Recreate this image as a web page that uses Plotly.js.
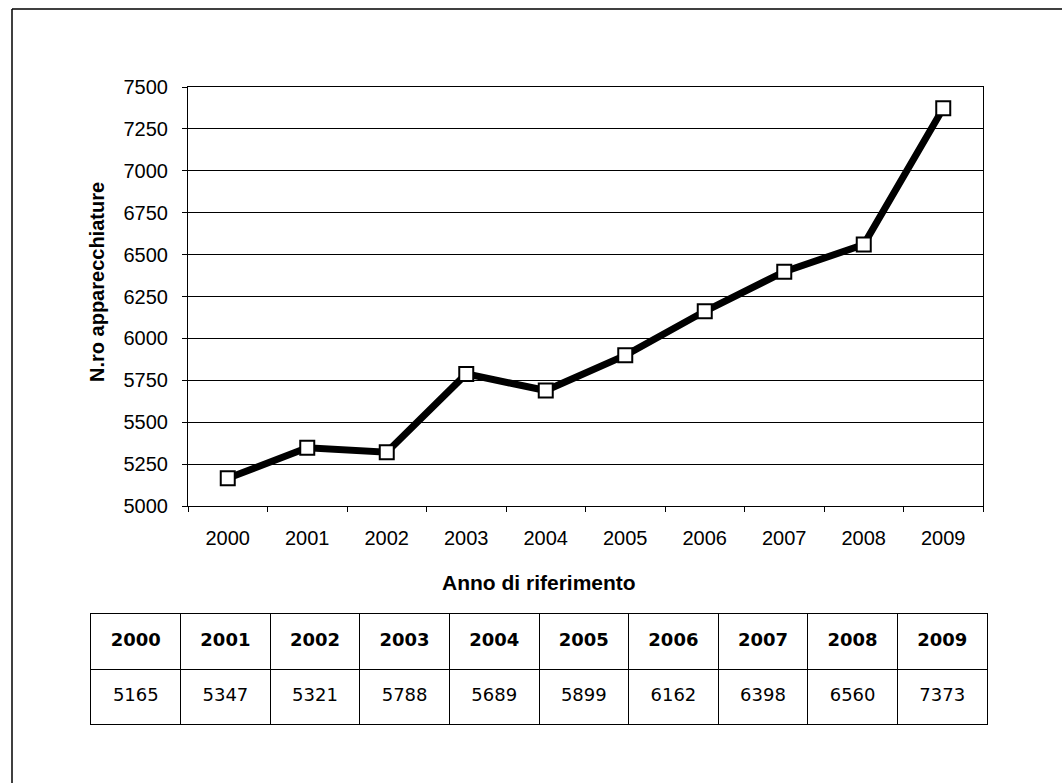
<!DOCTYPE html>
<html>
<head>
<meta charset="utf-8">
<script src="https://cdn.plot.ly/plotly-3.0.1.min.js"></script>
<style>
  html, body { margin: 0; padding: 0; background: #fff; }
  #chart { width: 1062px; height: 783px; }
</style>
</head>
<body>
<div id="chart"></div>
<script>
// Number of devices per reference year
const years = ['2000', '2001', '2002', '2003', '2004', '2005', '2006', '2007', '2008', '2009'];
const counts = [5165, 5347, 5321, 5788, 5689, 5899, 6162, 6398, 6560, 7373];
const yTickValues = [5000, 5250, 5500, 5750, 6000, 6250, 6500, 6750, 7000, 7250, 7500];

const W = 1062, H = 783;
const px = v => v / W;          // horizontal pixel -> paper fraction
const py = v => 1 - v / H;      // vertical pixel (from top) -> paper fraction

const lineTrace = {
  type: 'scatter',
  mode: 'lines+markers',
  x: years,
  y: counts,
  xaxis: 'x', yaxis: 'y',
  line: { color: '#000', width: 7 },
  marker: { symbol: 'square', size: 14, color: '#fff', line: { color: '#000', width: 2 } },
  hoverinfo: 'x+y',
  showlegend: false
};

// Data table under the chart: its own category axis gives the column grid,
// row 1 (y = 1.5) holds the years, row 0 (y = 0.5) the counts.
const tableHeader = {
  type: 'scatter',
  mode: 'text',
  x: years,
  y: years.map(() => 1.5),
  text: years,
  xaxis: 'x2', yaxis: 'y2',
  textposition: 'middle center',
  textfont: { family: 'DejaVu Sans', size: 18, color: '#000', weight: 'bold' },
  hoverinfo: 'skip',
  showlegend: false
};

const tableValues = {
  type: 'scatter',
  mode: 'text',
  x: years,
  y: years.map(() => 0.5),
  text: counts.map(String),
  xaxis: 'x2', yaxis: 'y2',
  textposition: 'middle center',
  textfont: { family: 'DejaVu Sans', size: 18, color: '#000' },
  hoverinfo: 'skip',
  showlegend: false
};

const axisFont = { family: 'Liberation Sans, Arial, sans-serif', size: 20, color: '#000' };

const layout = {
  width: W,
  height: H,
  margin: { l: 0, r: 0, t: 0, b: 0 },
  paper_bgcolor: '#fff',
  plot_bgcolor: '#fff',
  showlegend: false,
  xaxis: {
    type: 'category',
    domain: [px(188), px(983)],
    anchor: 'y',
    range: [-0.5, 9.5],
    tickson: 'boundaries',
    ticks: 'outside',
    ticklen: 5,
    tickcolor: '#000',
    showgrid: false,
    showline: true,
    linecolor: '#000',
    linewidth: 1,
    mirror: true,
    tickfont: axisFont,
    ticklabelstandoff: 14,
    zeroline: false,
    fixedrange: true
  },
  yaxis: {
    domain: [py(506), py(87)],
    anchor: 'x',
    range: [5000, 7500],
    tickvals: yTickValues,
    ticks: 'outside',
    ticklen: 5,
    tickcolor: '#000',
    showgrid: true,
    gridcolor: '#000',
    gridwidth: 1,
    showline: true,
    linecolor: '#000',
    linewidth: 1,
    mirror: true,
    tickfont: axisFont,
    ticklabelstandoff: 10,
    zeroline: false,
    fixedrange: true
  },
  xaxis2: {
    type: 'category',
    domain: [px(91), px(987)],
    anchor: 'y2',
    range: [-0.5, 9.5],
    tickson: 'boundaries',
    ticks: '',
    showticklabels: false,
    showgrid: true,
    gridcolor: '#000',
    gridwidth: 1,
    showline: true,
    linecolor: '#000',
    linewidth: 1,
    mirror: true,
    zeroline: false,
    fixedrange: true
  },
  yaxis2: {
    domain: [py(724), py(614)],
    anchor: 'x2',
    range: [0, 2],
    tickvals: [1],
    ticks: '',
    showticklabels: false,
    showgrid: true,
    gridcolor: '#000',
    gridwidth: 1,
    showline: true,
    linecolor: '#000',
    linewidth: 1,
    mirror: true,
    zeroline: false,
    fixedrange: true
  },
  annotations: [
    {
      text: 'Anno di riferimento',
      xref: 'paper', yref: 'paper',
      x: px(539), y: py(582),
      xanchor: 'center', yanchor: 'middle',
      showarrow: false,
      font: { family: 'Liberation Sans, Arial, sans-serif', size: 21, color: '#000', weight: 'bold' }
    },
    {
      text: 'N.ro apparecchiature',
      xref: 'paper', yref: 'paper',
      x: px(97), y: py(282),
      xanchor: 'center', yanchor: 'middle',
      textangle: -90,
      showarrow: false,
      font: { family: 'Liberation Sans, Arial, sans-serif', size: 20, color: '#000', weight: 'bold' }
    }
  ],
  shapes: [
    // outer frame: left and top edges
    { type: 'line', xref: 'paper', yref: 'paper', x0: px(12), x1: px(12), y0: py(9), y1: py(800), line: { color: '#000', width: 1.5 } },
    { type: 'line', xref: 'paper', yref: 'paper', x0: px(12), x1: px(1080), y0: py(9), y1: py(9), line: { color: '#000', width: 1.5 } }
  ]
};

Plotly.newPlot('chart', [lineTrace, tableHeader, tableValues], layout, { displayModeBar: false, staticPlot: true });
</script>
</body>
</html>
